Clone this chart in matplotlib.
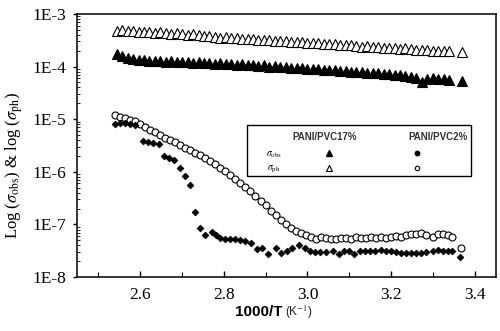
import numpy as np
import matplotlib
matplotlib.use("Agg")
import matplotlib.pyplot as plt
from matplotlib.patches import Rectangle
from matplotlib.ticker import FixedLocator, FixedFormatter, MultipleLocator, LogLocator, NullFormatter

plt.rcParams['mathtext.fontset'] = 'stix'

# ---- data (log10 of conductivity) ----
x_17 = [2.545, 2.558, 2.571, 2.584, 2.597, 2.610, 2.623, 2.636, 2.649, 2.662,
        2.675, 2.688, 2.701, 2.714, 2.727, 2.740, 2.753, 2.766, 2.779, 2.792,
        2.805, 2.818, 2.831, 2.844, 2.857, 2.870, 2.883, 2.896, 2.909, 2.922,
        2.935, 2.948, 2.961, 2.974, 2.987, 3.000, 3.013, 3.026, 3.039, 3.052,
        3.065, 3.078, 3.091, 3.104, 3.117, 3.130, 3.143, 3.156, 3.169, 3.182,
        3.195, 3.208, 3.221, 3.234, 3.247, 3.260, 3.273, 3.286, 3.299, 3.312,
        3.325, 3.338, 3.368]
log_ph_17 = [-3.32, -3.31, -3.33, -3.32, -3.34, -3.34, -3.35, -3.36, -3.35, -3.37,
             -3.38, -3.37, -3.39, -3.40, -3.39, -3.41, -3.42, -3.42, -3.43, -3.45,
             -3.44, -3.46, -3.46, -3.47, -3.48, -3.47, -3.49, -3.50, -3.50, -3.51,
             -3.52, -3.51, -3.53, -3.54, -3.54, -3.55, -3.56, -3.55, -3.57, -3.58,
             -3.57, -3.59, -3.60, -3.60, -3.61, -3.62, -3.61, -3.63, -3.62, -3.64,
             -3.64, -3.65, -3.66, -3.65, -3.67, -3.68, -3.68, -3.69, -3.70, -3.70,
             -3.71, -3.71, -3.72]
log_obs_17 = [-3.77, -3.80, -3.84, -3.86, -3.88, -3.87, -3.89, -3.90, -3.89, -3.91,
              -3.90, -3.91, -3.92, -3.91, -3.93, -3.92, -3.94, -3.93, -3.95, -3.94,
              -3.96, -3.95, -3.97, -3.96, -3.98, -3.97, -3.99, -3.98, -4.00, -3.99,
              -4.01, -4.01, -4.02, -4.03, -4.03, -4.04, -4.05, -4.05, -4.06, -4.07,
              -4.07, -4.09, -4.09, -4.10, -4.11, -4.11, -4.12, -4.13, -4.13, -4.15,
              -4.15, -4.16, -4.17, -4.18, -4.20, -4.22, -4.30, -4.24, -4.22, -4.23,
              -4.24, -4.26, -4.27]

x_ph_2 = [2.540, 2.552, 2.564, 2.576, 2.588, 2.600, 2.612, 2.624, 2.636, 2.648,
          2.660, 2.672, 2.684, 2.696, 2.708, 2.720, 2.732, 2.744, 2.756, 2.768,
          2.780, 2.792, 2.804, 2.816, 2.828, 2.840, 2.852, 2.864, 2.876, 2.888,
          2.900, 2.912, 2.924, 2.936, 2.948, 2.960, 2.972, 2.984, 2.996, 3.008,
          3.020, 3.032, 3.044, 3.056, 3.068, 3.080, 3.092, 3.104, 3.116, 3.128,
          3.140, 3.152, 3.164, 3.176, 3.188, 3.200, 3.212, 3.224, 3.236, 3.248,
          3.260, 3.272, 3.284, 3.300, 3.312, 3.324, 3.336, 3.346, 3.366]
log_ph_2 = [-4.92, -4.95, -4.98, -5.01, -5.04, -5.09, -5.14, -5.20, -5.25, -5.30,
            -5.35, -5.39, -5.44, -5.49, -5.54, -5.59, -5.64, -5.69, -5.74, -5.80,
            -5.86, -5.92, -5.99, -6.07, -6.14, -6.21, -6.29, -6.37, -6.46, -6.55,
            -6.64, -6.74, -6.83, -6.92, -7.00, -7.07, -7.13, -7.17, -7.20, -7.24,
            -7.27, -7.23, -7.26, -7.28, -7.27, -7.25, -7.26, -7.27, -7.24, -7.25,
            -7.26, -7.24, -7.26, -7.24, -7.25, -7.24, -7.22, -7.23, -7.21, -7.19,
            -7.18, -7.17, -7.20, -7.23, -7.19, -7.18, -7.21, -7.24, -7.45]

x_obs_2 = [2.540, 2.552, 2.564, 2.576, 2.588, 2.608, 2.620, 2.632, 2.646, 2.658,
           2.670, 2.682, 2.695, 2.707, 2.720, 2.732, 2.744, 2.756, 2.772, 2.782,
           2.792, 2.804, 2.816, 2.828, 2.840, 2.852, 2.866, 2.880, 2.892, 2.905,
           2.924, 2.937, 2.950, 2.964, 2.979, 2.993, 3.006, 3.018, 3.030, 3.045,
           3.062, 3.075, 3.088, 3.100, 3.112, 3.125, 3.137, 3.149, 3.161, 3.175,
           3.188, 3.200, 3.212, 3.224, 3.236, 3.248, 3.260, 3.272, 3.284, 3.300,
           3.312, 3.324, 3.336, 3.346, 3.365]
log_obs_2 = [-5.10, -5.07, -5.07, -5.09, -5.12, -5.41, -5.44, -5.46, -5.48, -5.70,
             -5.74, -5.78, -5.93, -6.08, -6.26, -6.77, -7.07, -7.21, -7.14, -7.20,
             -7.25, -7.27, -7.27, -7.27, -7.29, -7.32, -7.35, -7.47, -7.45, -7.56,
             -7.44, -7.54, -7.50, -7.45, -7.39, -7.45, -7.51, -7.53, -7.53, -7.52,
             -7.50, -7.57, -7.51, -7.50, -7.57, -7.50, -7.50, -7.50, -7.50, -7.49,
             -7.50, -7.50, -7.53, -7.55, -7.55, -7.55, -7.55, -7.55, -7.53, -7.50,
             -7.49, -7.50, -7.50, -7.51, -7.61]

xticks = [2.6, 2.8, 3.0, 3.2, 3.4]
xtick_labels = ['2.6', '2.8', '3.0', '3.2', '3.4']
ytick_exps = [-8, -7, -6, -5, -4, -3]
ytick_labels = ['1E-8', '1E-7', '1E-6', '1E-5', '1E-4', '1E-3']

legend_cols = ['PANI/PVC17%', 'PANI/PVC2%']

# ---- figure ----
fig = plt.figure(figsize=(5.0, 3.31), dpi=100)
ax = fig.add_axes([0.154, 0.163, 0.838, 0.795])

def p(v):
    return [10.0 ** e for e in v]

ax.plot(x_17, p(log_ph_17), linestyle='none', marker='^', ms=6.6,
        mfc='white', mec='black', mew=0.8)
ax.plot(x_17, p(log_obs_17), linestyle='none', marker='^', ms=6.6,
        mfc='black', mec='black', mew=0.8)
ax.plot(x_ph_2, p(log_ph_2), linestyle='none', marker='o', ms=5.0,
        mfc='white', mec='black', mew=0.8)
ax.plot(x_obs_2, p(log_obs_2), linestyle='none', marker='D', ms=3.4,
        mfc='black', mec='black', mew=0.6)

ax.set_yscale('log')
ax.set_xlim(2.45, 3.45)
ax.set_ylim(1e-8, 1e-3)

serif = 'Liberation Serif'
ax.xaxis.set_major_locator(FixedLocator(xticks))
ax.xaxis.set_major_formatter(FixedFormatter(xtick_labels))
ax.xaxis.set_minor_locator(MultipleLocator(0.1))
ax.yaxis.set_major_locator(FixedLocator([10.0 ** e for e in ytick_exps]))
ax.yaxis.set_major_formatter(FixedFormatter(ytick_labels))
ax.yaxis.set_minor_locator(LogLocator(base=10, subs=np.arange(2, 10), numticks=20))
ax.yaxis.set_minor_formatter(NullFormatter())

ax.tick_params(axis='x', which='major', direction='in', length=4.5, width=1.0,
               pad=7, labelsize=12.5)
ax.tick_params(axis='x', which='minor', direction='in', length=3.5, width=0.8)
ax.tick_params(axis='y', which='major', direction='out', length=3, width=1.0,
               pad=5, labelsize=12.5)
ax.tick_params(axis='y', which='minor', direction='in', length=2, width=0.6)
for lab in ax.get_xticklabels() + ax.get_yticklabels():
    lab.set_fontfamily(serif)
for s in ax.spines.values():
    s.set_linewidth(1.1)

# y label
fig.text(14 / 500, 1 - 165 / 331,
         r'Log ($\sigma_{\rm obs}$) & log ($\sigma_{\rm ph}$)',
         rotation=90, ha='center', va='center', fontsize=12, family=serif)
# x label
fig.text(0.565, 1 - 312 / 331, '1000/T', ha='right', va='center',
         fontsize=11, fontweight='bold', family='Liberation Sans')
fig.text(0.57, 1 - 312 / 331, r'(K$^{-1}$)', ha='left', va='center',
         fontsize=8.5, family='Liberation Sans', color='#222222')

# legend box (manual)
ax.add_patch(Rectangle((0.406, 0.384), 0.534, 0.194, transform=ax.transAxes,
                       fill=False, edgecolor='black', linewidth=1.0, zorder=5))
lx = lambda px: (px - 77) / 419
ly = lambda py: (277 - py) / 263
tk = dict(transform=ax.transAxes, ha='center', va='center', zorder=6)
ax.text(lx(325), ly(137), legend_cols[0], fontsize=7, fontweight='bold',
        family='Liberation Sans', color='#333333', **tk)
ax.text(lx(438), ly(137), legend_cols[1], fontsize=7, fontweight='bold',
        family='Liberation Sans', color='#333333', **tk)
ax.text(lx(274), ly(155), r'$\sigma_{\rm obs}$', fontsize=7, **tk)
ax.text(lx(274), ly(169), r'$\sigma_{\rm ph}$', fontsize=7, **tk)
ax.plot([lx(329)], [ly(153)], marker='^', ms=4.5, mfc='black', mec='black',
        transform=ax.transAxes, zorder=6, clip_on=False)
ax.plot([lx(329)], [ly(168)], marker='^', ms=4.5, mfc='white', mec='black',
        mew=0.8, transform=ax.transAxes, zorder=6, clip_on=False)
ax.plot([lx(417)], [ly(153)], marker='o', ms=3.2, mfc='black', mec='black',
        transform=ax.transAxes, zorder=6, clip_on=False)
ax.plot([lx(417)], [ly(168)], marker='o', ms=3.2, mfc='white', mec='black',
        mew=0.8, transform=ax.transAxes, zorder=6, clip_on=False)

fig.savefig('out.png', dpi=100)
